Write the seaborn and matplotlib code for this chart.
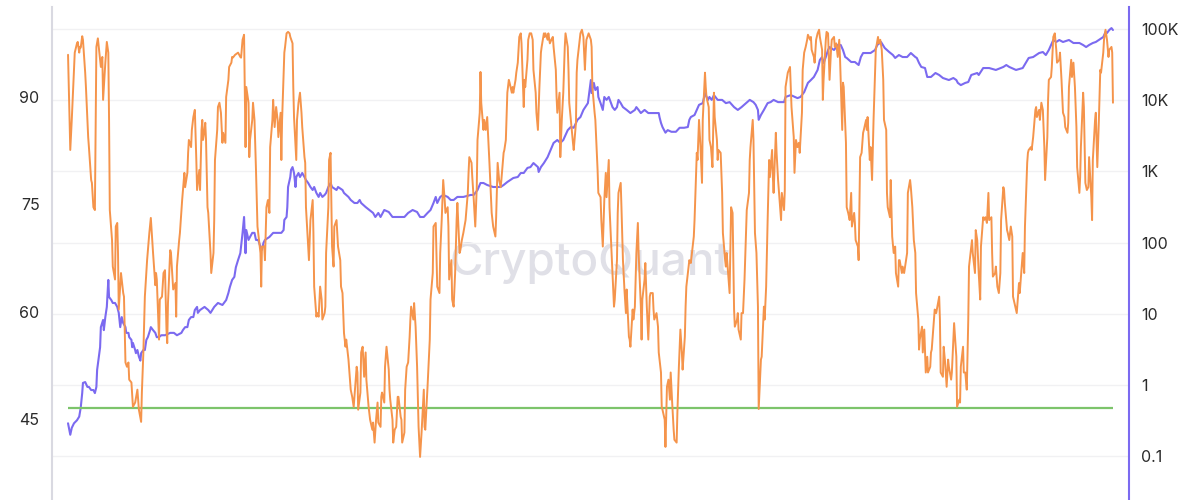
import numpy as np
import pandas as pd
import matplotlib
matplotlib.use("Agg")
import matplotlib.pyplot as plt
import seaborn as sns
from matplotlib.ticker import FixedLocator, FixedFormatter, NullLocator

# ---------------- data ----------------
osc_years = [
    2010.93, 2010.96, 2010.98, 2011.02, 2011.05, 2011.06, 2011.08, 2011.09, 2011.10, 2011.12,
    2011.13, 2011.16, 2011.17, 2011.20, 2011.21, 2011.24, 2011.25, 2011.27, 2011.29, 2011.31,
    2011.33, 2011.35, 2011.37, 2011.39, 2011.40, 2011.43, 2011.45, 2011.47, 2011.48, 2011.49,
    2011.52, 2011.53, 2011.56, 2011.57, 2011.59, 2011.60, 2011.61, 2011.64, 2011.67, 2011.68,
    2011.70, 2011.72, 2011.74, 2011.75, 2011.78, 2011.80, 2011.83, 2011.86, 2011.88, 2011.91,
    2011.92, 2011.94, 2011.96, 2011.99, 2012.02, 2012.04, 2012.07, 2012.10, 2012.11, 2012.12,
    2012.15, 2012.16, 2012.19, 2012.21, 2012.23, 2012.25, 2012.26, 2012.27, 2012.30, 2012.31,
    2012.34, 2012.37, 2012.38, 2012.39, 2012.42, 2012.43, 2012.46, 2012.49, 2012.50, 2012.53,
    2012.54, 2012.55, 2012.58, 2012.59, 2012.61, 2012.63, 2012.65, 2012.66, 2012.69, 2012.70,
    2012.72, 2012.73, 2012.74, 2012.76, 2012.77, 2012.78, 2012.80, 2012.81, 2012.84, 2012.85,
    2012.88, 2012.89, 2012.90, 2012.93, 2012.94, 2012.96, 2012.98, 2013.00, 2013.01, 2013.04,
    2013.05, 2013.08, 2013.09, 2013.12, 2013.13, 2013.14, 2013.17, 2013.21, 2013.24, 2013.25,
    2013.27, 2013.29, 2013.31, 2013.32, 2013.35, 2013.36, 2013.37, 2013.40, 2013.41, 2013.43,
    2013.45, 2013.47, 2013.48, 2013.51, 2013.52, 2013.53, 2013.56, 2013.57, 2013.59, 2013.61,
    2013.63, 2013.64, 2013.67, 2013.68, 2013.70, 2013.72, 2013.74, 2013.75, 2013.78, 2013.79,
    2013.80, 2013.83, 2013.84, 2013.86, 2013.88, 2013.90, 2013.91, 2013.94, 2013.95, 2013.96,
    2013.99, 2014.00, 2014.02, 2014.04, 2014.06, 2014.07, 2014.10, 2014.11, 2014.12, 2014.15,
    2014.16, 2014.18, 2014.21, 2014.22, 2014.23, 2014.26, 2014.27, 2014.29, 2014.31, 2014.33,
    2014.34, 2014.37, 2014.38, 2014.39, 2014.42, 2014.43, 2014.45, 2014.47, 2014.49, 2014.50,
    2014.53, 2014.54, 2014.55, 2014.58, 2014.59, 2014.61, 2014.63, 2014.65, 2014.66, 2014.69,
    2014.72, 2014.74, 2014.76, 2014.77, 2014.80, 2014.81, 2014.82, 2014.85, 2014.86, 2014.88,
    2014.90, 2014.92, 2014.93, 2014.96, 2014.98, 2015.01, 2015.02, 2015.04, 2015.06, 2015.08,
    2015.09, 2015.12, 2015.13, 2015.14, 2015.17, 2015.18, 2015.20, 2015.23, 2015.24, 2015.25,
    2015.28, 2015.29, 2015.31, 2015.33, 2015.35, 2015.36, 2015.39, 2015.40, 2015.41, 2015.44,
    2015.45, 2015.47, 2015.49, 2015.51, 2015.52, 2015.53, 2015.56, 2015.57, 2015.59, 2015.61,
    2015.63, 2015.65, 2015.67, 2015.70, 2015.71, 2015.72, 2015.75, 2015.78, 2015.79, 2015.82,
    2015.83, 2015.86, 2015.87, 2015.88, 2015.91, 2015.92, 2015.94, 2015.96, 2015.98, 2015.99,
    2016.02, 2016.03, 2016.04, 2016.07, 2016.08, 2016.10, 2016.12, 2016.14, 2016.15, 2016.18,
    2016.19, 2016.21, 2016.23, 2016.26, 2016.29, 2016.30, 2016.31, 2016.34, 2016.35, 2016.37,
    2016.39, 2016.41, 2016.42, 2016.45, 2016.46, 2016.47, 2016.50, 2016.51, 2016.53, 2016.55,
    2016.57, 2016.58, 2016.61, 2016.62, 2016.63, 2016.66, 2016.67, 2016.69, 2016.71, 2016.73,
    2016.74, 2016.77, 2016.78, 2016.80, 2016.82, 2016.84, 2016.85, 2016.88, 2016.89, 2016.90,
    2016.93, 2016.94, 2016.96, 2016.98, 2017.00, 2017.01, 2017.04, 2017.05, 2017.06, 2017.09,
    2017.10, 2017.12, 2017.14, 2017.16, 2017.17, 2017.20, 2017.21, 2017.23, 2017.25, 2017.27,
    2017.28, 2017.31, 2017.32, 2017.33, 2017.36, 2017.37, 2017.39, 2017.41, 2017.43, 2017.44,
    2017.47, 2017.48, 2017.49, 2017.52, 2017.53, 2017.55, 2017.57, 2017.59, 2017.60, 2017.63,
    2017.64, 2017.65, 2017.68, 2017.70, 2017.71, 2017.74, 2017.75, 2017.76, 2017.79, 2017.80,
    2017.82, 2017.84, 2017.86, 2017.87, 2017.88, 2017.91, 2017.94, 2017.95, 2017.96, 2017.99,
    2018.00, 2018.03, 2018.04, 2018.07, 2018.08, 2018.10, 2018.12, 2018.14, 2018.15, 2018.18,
    2018.19, 2018.21, 2018.23, 2018.25, 2018.26, 2018.29, 2018.30, 2018.31, 2018.34, 2018.35,
    2018.37, 2018.39, 2018.41, 2018.42, 2018.45, 2018.46, 2018.47, 2018.50, 2018.51, 2018.53,
    2018.55, 2018.57, 2018.58, 2018.61, 2018.62, 2018.63, 2018.66, 2018.67, 2018.69, 2018.71,
    2018.73, 2018.74, 2018.77, 2018.78, 2018.79, 2018.82, 2018.84, 2018.85, 2018.88, 2018.89,
    2018.90, 2018.93, 2018.94, 2018.96, 2018.98, 2019.00, 2019.01, 2019.03, 2019.05, 2019.06,
    2019.09, 2019.10, 2019.12, 2019.14, 2019.16, 2019.17, 2019.20, 2019.21, 2019.22, 2019.25,
    2019.26, 2019.28, 2019.30, 2019.32, 2019.33, 2019.36, 2019.37, 2019.39, 2019.41, 2019.43,
    2019.44, 2019.47, 2019.48, 2019.49, 2019.52, 2019.53, 2019.55, 2019.57, 2019.59, 2019.60,
    2019.63, 2019.64, 2019.65, 2019.68, 2019.70, 2019.71, 2019.74, 2019.75, 2019.76, 2019.79,
    2019.80, 2019.82, 2019.84, 2019.86, 2019.87, 2019.90, 2019.91, 2019.92, 2019.95, 2019.96,
    2019.98, 2020.00, 2020.02, 2020.03, 2020.06, 2020.07, 2020.08, 2020.11, 2020.12, 2020.14,
    2020.16, 2020.18, 2020.19, 2020.22, 2020.23, 2020.26, 2020.27, 2020.29, 2020.31, 2020.33,
    2020.34, 2020.37, 2020.38, 2020.39, 2020.42, 2020.43, 2020.45, 2020.47, 2020.49, 2020.50,
    2020.53, 2020.54, 2020.55, 2020.58, 2020.61, 2020.62, 2020.63, 2020.66, 2020.67, 2020.69,
    2020.71, 2020.73, 2020.74, 2020.77, 2020.78, 2020.80, 2020.82, 2020.84, 2020.85, 2020.88,
    2020.89, 2020.90, 2020.93, 2020.94, 2020.96, 2020.98, 2021.00, 2021.01, 2021.04, 2021.05,
    2021.06, 2021.09, 2021.10, 2021.12, 2021.14, 2021.16, 2021.17, 2021.20, 2021.21, 2021.23,
    2021.25, 2021.27, 2021.28, 2021.31, 2021.32, 2021.33, 2021.36, 2021.37, 2021.39, 2021.41,
    2021.43, 2021.44, 2021.47, 2021.48, 2021.49, 2021.52, 2021.53, 2021.55, 2021.57, 2021.59,
    2021.60, 2021.63, 2021.64, 2021.65, 2021.68, 2021.69, 2021.71, 2021.73, 2021.75, 2021.76,
    2021.79, 2021.80, 2021.82, 2021.84, 2021.86, 2021.87, 2021.90, 2021.91, 2021.92, 2021.95,
    2021.96, 2021.98, 2022.00, 2022.02, 2022.03, 2022.06, 2022.07, 2022.08, 2022.11, 2022.12,
    2022.14, 2022.16, 2022.18, 2022.19, 2022.22, 2022.23, 2022.25, 2022.27, 2022.29, 2022.30,
    2022.33, 2022.34, 2022.35, 2022.38, 2022.39, 2022.41, 2022.43, 2022.45, 2022.46, 2022.49,
    2022.50, 2022.51, 2022.54, 2022.55, 2022.57, 2022.61, 2022.62, 2022.63, 2022.66, 2022.67,
    2022.69, 2022.71, 2022.73, 2022.74, 2022.77, 2022.78, 2022.81, 2022.84, 2022.85, 2022.88,
    2022.89, 2022.90, 2022.93, 2022.94, 2022.96, 2022.98, 2023.00, 2023.01, 2023.04, 2023.05,
    2023.06, 2023.09, 2023.10, 2023.12, 2023.14, 2023.16, 2023.17, 2023.20, 2023.21, 2023.23,
    2023.25, 2023.27, 2023.28, 2023.31, 2023.32, 2023.33, 2023.36, 2023.37, 2023.39, 2023.41,
    2023.43, 2023.44, 2023.47, 2023.48, 2023.49, 2023.52, 2023.53, 2023.55, 2023.57, 2023.59,
    2023.60, 2023.63, 2023.64, 2023.65, 2023.68, 2023.69, 2023.71, 2023.73, 2023.75, 2023.76,
    2023.79, 2023.80, 2023.81, 2023.84, 2023.85, 2023.87, 2023.90, 2023.91, 2023.92, 2023.95,
    2023.96, 2023.98, 2024.00, 2024.02, 2024.03, 2024.06, 2024.07, 2024.08, 2024.11, 2024.12,
    2024.14, 2024.16, 2024.18, 2024.19, 2024.22, 2024.23, 2024.25, 2024.27, 2024.29, 2024.30,
    2024.33, 2024.34, 2024.35, 2024.38, 2024.39, 2024.41, 2024.43, 2024.45, 2024.46, 2024.49,
    2024.50, 2024.51, 2024.54, 2024.55, 2024.57, 2024.59, 2024.61, 2024.62, 2024.65, 2024.66,
    2024.67, 2024.70, 2024.71, 2024.73, 2024.75, 2024.77, 2024.78, 2024.81, 2024.82, 2024.84,
    2024.86, 2024.88, 2024.89, 2024.92, 2024.93, 2024.94,
]

osc_values = [
    95.9, 82.6, 86.8, 96.2, 97.5, 97.7, 96.2, 97.0, 96.9, 98.5,
    98.0, 93.4, 91.4, 84.4, 83.0, 78.4, 78.0, 74.6, 74.2, 97.0,
    98.2, 96.2, 94.2, 95.6, 89.6, 94.8, 97.7, 96.2, 86.8, 74.2,
    70.0, 66.3, 64.5, 71.9, 72.4, 68.2, 60.3, 65.4, 62.6, 62.1,
    52.9, 52.3, 52.9, 50.5, 50.1, 46.7, 47.3, 49.1, 46.3, 44.6,
    48.7, 54.3, 62.1, 67.2, 71.0, 73.1, 68.2, 63.7, 65.4, 64.5,
    56.1, 61.7, 62.1, 65.4, 65.8, 57.5, 55.6, 61.2, 68.6, 68.2,
    63.1, 64.0, 59.3, 66.3, 70.0, 71.0, 75.6, 79.4, 77.4, 79.4,
    82.2, 84.0, 83.0, 85.4, 87.2, 88.2, 81.2, 77.0, 79.8, 77.0,
    85.4, 86.8, 84.0, 85.4, 86.4, 84.0, 74.6, 73.8, 68.2, 65.4,
    68.2, 72.8, 81.2, 85.4, 88.6, 89.2, 87.8, 83.6, 85.0, 83.6,
    90.0, 92.4, 94.2, 94.8, 95.6, 95.5, 95.9, 96.2, 95.6, 95.5,
    98.0, 98.7, 83.0, 91.4, 89.2, 81.6, 84.0, 86.8, 89.2, 86.8,
    79.8, 71.9, 71.0, 68.2, 63.5, 69.1, 69.1, 67.2, 74.6, 75.6,
    73.8, 83.0, 86.8, 89.6, 85.8, 88.6, 86.8, 84.4, 87.8, 81.2,
    86.8, 96.2, 97.0, 98.9, 99.1, 98.9, 98.4, 97.5, 91.4, 87.2,
    81.2, 86.8, 89.2, 90.6, 87.8, 85.8, 81.6, 80.8, 74.6, 69.1,
    67.2, 72.8, 75.6, 71.0, 63.5, 59.3, 59.8, 59.3, 63.5, 61.7,
    58.9, 59.8, 60.7, 68.2, 74.6, 81.2, 82.2, 69.1, 66.3, 71.9,
    72.8, 71.0, 69.1, 67.2, 63.5, 62.6, 57.0, 55.1, 56.1, 53.3,
    49.1, 48.1, 46.7, 48.1, 52.3, 51.5, 46.3, 48.7, 54.3, 55.1,
    50.9, 54.3, 50.5, 46.7, 44.9, 43.5, 44.5, 41.7, 44.9, 47.3,
    44.5, 43.9, 48.1, 48.7, 47.3, 52.3, 55.1, 51.9, 49.1, 47.7,
    44.9, 41.7, 43.5, 43.9, 48.1, 48.1, 45.3, 44.9, 41.7, 43.1,
    49.1, 52.3, 52.9, 56.5, 58.9, 60.7, 58.9, 61.2, 57.9, 52.3,
    43.9, 39.7, 43.1, 49.1, 43.9, 43.5, 49.5, 56.1, 61.7, 65.4,
    71.9, 72.4, 68.2, 63.5, 62.6, 68.2, 72.8, 78.4, 75.6, 73.8,
    74.6, 71.9, 64.5, 67.2, 61.7, 60.7, 65.4, 72.8, 75.2, 68.2,
    68.6, 70.0, 71.0, 72.8, 76.6, 79.4, 81.6, 80.8, 78.8, 75.6,
    71.9, 77.4, 84.0, 87.8, 93.5, 89.2, 85.4, 86.8, 85.4, 87.2,
    83.0, 80.8, 73.8, 72.8, 71.9, 70.5, 73.2, 80.8, 78.4, 77.4,
    78.4, 82.2, 82.6, 84.0, 90.6, 92.4, 92.0, 90.6, 91.4, 90.6,
    92.4, 93.4, 94.8, 98.4, 98.9, 97.5, 88.6, 92.4, 91.4, 95.2,
    98.0, 98.9, 98.9, 98.0, 93.8, 90.6, 87.8, 85.4, 91.4, 96.2,
    97.0, 98.9, 98.4, 98.9, 98.0, 98.9, 97.5, 98.0, 98.4, 97.0,
    93.8, 90.0, 87.8, 90.6, 81.6, 86.8, 90.6, 97.0, 98.9, 97.0,
    93.8, 89.2, 85.8, 83.6, 82.6, 86.4, 93.4, 95.2, 98.0, 98.9,
    99.4, 98.4, 93.8, 96.2, 98.0, 98.9, 98.0, 97.0, 91.4, 87.8,
    86.8, 79.8, 76.6, 76.0, 72.8, 69.1, 75.6, 79.4, 76.0, 81.2,
    74.6, 70.0, 65.4, 60.7, 61.7, 67.2, 73.8, 76.6, 78.0, 74.6,
    67.2, 63.1, 59.8, 63.1, 56.5, 56.1, 55.1, 60.3, 58.9, 60.7,
    68.2, 72.4, 68.2, 60.7, 56.1, 61.7, 64.5, 66.8, 60.7, 56.1,
    62.1, 62.6, 62.6, 60.3, 58.9, 59.8, 57.9, 54.3, 51.5, 46.7,
    46.3, 44.9, 41.1, 49.5, 50.5, 47.7, 51.5, 47.3, 43.5, 42.1,
    41.7, 45.9, 52.3, 57.5, 54.3, 51.9, 56.5, 60.7, 63.5, 66.3,
    67.2, 66.8, 68.6, 70.5, 72.8, 82.2, 81.2, 86.8, 83.0, 78.0,
    86.8, 93.4, 91.4, 90.0, 88.6, 84.0, 83.0, 80.2, 90.6, 87.2,
    84.0, 81.2, 82.6, 82.2, 76.6, 71.0, 67.2, 66.3, 68.2, 64.0,
    62.6, 74.6, 73.8, 60.3, 57.9, 58.9, 59.8, 57.5, 56.1, 59.8,
    59.8, 64.5, 71.0, 74.2, 76.6, 81.2, 83.0, 86.8, 84.0, 71.0,
    68.2, 60.7, 46.4, 53.3, 53.7, 60.7, 58.9, 63.5, 72.8, 81.2,
    78.8, 82.6, 78.8, 76.6, 85.0, 82.2, 78.4, 75.6, 72.8, 76.6,
    74.2, 77.0, 91.4, 93.4, 94.2, 91.4, 88.6, 84.4, 79.4, 84.0,
    83.0, 83.6, 82.2, 87.8, 93.8, 96.2, 97.0, 98.0, 98.7, 98.0,
    98.4, 96.6, 95.6, 94.8, 98.0, 98.9, 99.4, 98.4, 96.6, 89.6,
    92.4, 98.0, 99.1, 98.9, 92.4, 96.6, 98.0, 98.4, 97.0, 97.5,
    95.6, 98.0, 95.6, 85.4, 92.0, 91.4, 83.6, 74.6, 73.8, 72.8,
    76.6, 71.9, 73.8, 72.4, 70.0, 69.1, 67.2, 81.6, 82.2, 85.0,
    85.4, 86.8, 85.4, 87.2, 81.2, 83.0, 78.4, 86.8, 93.4, 96.6,
    98.4, 97.5, 98.0, 96.6, 92.4, 86.8, 85.4, 76.6, 74.6, 73.2,
    78.4, 70.5, 68.2, 69.1, 65.4, 63.5, 67.2, 67.2, 65.4, 66.3,
    65.4, 66.8, 68.2, 76.6, 78.4, 77.4, 74.6, 70.0, 68.2, 62.6,
    58.9, 54.7, 56.1, 57.9, 54.3, 57.5, 51.5, 53.7, 51.5, 52.3,
    54.3, 54.7, 58.9, 60.3, 59.8, 62.1, 58.9, 51.5, 50.9, 55.1,
    52.9, 49.5, 53.3, 52.3, 50.5, 51.5, 58.4, 53.7, 46.7, 47.7,
    47.3, 52.3, 55.1, 51.5, 51.5, 49.1, 58.9, 66.3, 69.1, 70.0,
    68.2, 65.4, 71.4, 70.0, 65.4, 61.7, 69.1, 73.2, 72.8, 73.2,
    72.4, 76.6, 72.8, 73.2, 68.2, 64.9, 65.4, 66.3, 63.5, 62.6,
    65.4, 72.8, 77.4, 77.0, 75.2, 71.4, 71.0, 70.0, 71.9, 70.5,
    62.1, 60.7, 60.3, 59.8, 64.0, 62.6, 65.4, 68.2, 65.4, 71.9,
    80.8, 82.2, 82.6, 83.0, 82.6, 84.4, 88.2, 88.6, 87.2, 88.2,
    86.8, 89.2, 88.2, 83.0, 78.4, 84.4, 89.6, 92.4, 92.8, 94.2,
    98.4, 98.9, 96.6, 94.8, 95.2, 96.2, 92.4, 87.8, 87.2, 85.8,
    85.0, 86.4, 91.4, 95.2, 92.8, 94.8, 91.4, 85.8, 80.2, 76.6,
    78.8, 83.0, 90.6, 88.6, 78.0, 77.0, 77.4, 81.6, 76.0, 72.8,
    81.2, 86.8, 87.8, 80.2, 86.4, 93.8, 93.4, 96.2, 98.0, 99.4,
    98.0, 95.6, 96.6, 97.0, 96.2, 89.2,
]

price_years = [
    2010.93, 2010.96, 2010.98, 2011.01, 2011.05, 2011.08, 2011.10, 2011.12, 2011.13, 2011.16,
    2011.19, 2011.21, 2011.24, 2011.27, 2011.29, 2011.31, 2011.32, 2011.35, 2011.36, 2011.37,
    2011.40, 2011.41, 2011.43, 2011.45, 2011.47, 2011.48, 2011.51, 2011.53, 2011.56, 2011.59,
    2011.61, 2011.63, 2011.65, 2011.67, 2011.70, 2011.71, 2011.74, 2011.75, 2011.78, 2011.79,
    2011.80, 2011.83, 2011.84, 2011.86, 2011.88, 2011.90, 2011.91, 2011.94, 2011.96, 2011.98,
    2012.00, 2012.03, 2012.04, 2012.07, 2012.10, 2012.12, 2012.15, 2012.18, 2012.23, 2012.30,
    2012.35, 2012.39, 2012.45, 2012.47, 2012.50, 2012.53, 2012.55, 2012.58, 2012.61, 2012.63,
    2012.66, 2012.67, 2012.70, 2012.76, 2012.81, 2012.84, 2012.89, 2012.94, 2013.00, 2013.05,
    2013.08, 2013.10, 2013.13, 2013.16, 2013.18, 2013.21, 2013.24, 2013.27, 2013.29, 2013.31,
    2013.32, 2013.35, 2013.37, 2013.40, 2013.43, 2013.45, 2013.48, 2013.51, 2013.53, 2013.55,
    2013.57, 2013.63, 2013.68, 2013.79, 2013.82, 2013.83, 2013.86, 2013.87, 2013.88, 2013.91,
    2013.92, 2013.94, 2013.96, 2013.98, 2013.99, 2014.02, 2014.04, 2014.07, 2014.10, 2014.12,
    2014.15, 2014.18, 2014.21, 2014.23, 2014.26, 2014.29, 2014.31, 2014.34, 2014.37, 2014.39,
    2014.42, 2014.45, 2014.47, 2014.53, 2014.55, 2014.61, 2014.63, 2014.69, 2014.72, 2014.77,
    2014.81, 2014.84, 2014.86, 2014.92, 2014.97, 2015.02, 2015.05, 2015.09, 2015.12, 2015.17,
    2015.23, 2015.28, 2015.36, 2015.44, 2015.49, 2015.55, 2015.61, 2015.65, 2015.70, 2015.75,
    2015.79, 2015.83, 2015.86, 2015.88, 2015.92, 2015.96, 2016.02, 2016.06, 2016.10, 2016.15,
    2016.23, 2016.33, 2016.37, 2016.42, 2016.46, 2016.50, 2016.55, 2016.63, 2016.73, 2016.77,
    2016.82, 2016.86, 2016.90, 2016.96, 2017.00, 2017.04, 2017.09, 2017.13, 2017.17, 2017.23,
    2017.24, 2017.27, 2017.31, 2017.36, 2017.40, 2017.44, 2017.49, 2017.53, 2017.57, 2017.63,
    2017.67, 2017.71, 2017.76, 2017.80, 2017.84, 2017.90, 2017.94, 2017.95, 2017.98, 2018.00,
    2018.03, 2018.04, 2018.07, 2018.10, 2018.12, 2018.15, 2018.18, 2018.21, 2018.23, 2018.26,
    2018.29, 2018.31, 2018.34, 2018.37, 2018.42, 2018.47, 2018.53, 2018.55, 2018.58, 2018.61,
    2018.66, 2018.71, 2018.85, 2018.86, 2018.88, 2018.90, 2018.94, 2018.97, 2019.02, 2019.08,
    2019.13, 2019.19, 2019.24, 2019.26, 2019.28, 2019.33, 2019.36, 2019.39, 2019.44, 2019.47,
    2019.51, 2019.53, 2019.56, 2019.59, 2019.64, 2019.70, 2019.75, 2019.80, 2019.86, 2019.91,
    2019.96, 2020.02, 2020.07, 2020.12, 2020.15, 2020.18, 2020.19, 2020.22, 2020.26, 2020.31,
    2020.35, 2020.39, 2020.45, 2020.53, 2020.55, 2020.62, 2020.71, 2020.75, 2020.80, 2020.85,
    2020.89, 2020.93, 2020.98, 2021.01, 2021.04, 2021.06, 2021.09, 2021.12, 2021.14, 2021.20,
    2021.25, 2021.29, 2021.32, 2021.35, 2021.37, 2021.43, 2021.48, 2021.53, 2021.56, 2021.59,
    2021.64, 2021.69, 2021.75, 2021.78, 2021.83, 2021.88, 2021.94, 2021.99, 2022.02, 2022.07,
    2022.12, 2022.18, 2022.23, 2022.29, 2022.31, 2022.34, 2022.37, 2022.42, 2022.45, 2022.50,
    2022.56, 2022.61, 2022.66, 2022.74, 2022.80, 2022.84, 2022.86, 2022.90, 2022.96, 2023.00,
    2023.04, 2023.12, 2023.14, 2023.20, 2023.28, 2023.37, 2023.47, 2023.51, 2023.55, 2023.64,
    2023.73, 2023.77, 2023.81, 2023.87, 2023.95, 2024.00, 2024.04, 2024.08, 2024.11, 2024.14,
    2024.18, 2024.22, 2024.27, 2024.35, 2024.41, 2024.49, 2024.54, 2024.58, 2024.62, 2024.67,
    2024.71, 2024.75, 2024.81, 2024.84, 2024.86, 2024.89, 2024.92, 2024.94,
]

price_values = [
    0.29, 0.20, 0.25, 0.29, 0.32, 0.36, 0.48, 0.77, 1.07, 1.10,
    0.94, 0.94, 0.85, 0.85, 0.77, 0.94, 1.63, 2.8, 3.4, 6.5,
    8.2, 5.9, 9.0, 12.5, 29.9, 17.2, 15.6, 14.2, 14.2, 12.5,
    10.3, 6.5, 9.0, 7.4, 6.5, 5.4, 5.4, 4.7, 4.3, 3.4,
    3.9, 3.1, 2.8, 3.1, 2.5, 2.2, 2.8, 3.1, 3.1, 4.3,
    4.7, 5.9, 6.5, 5.9, 5.4, 4.7, 4.7, 5.0, 5.0, 5.4,
    5.4, 5.0, 5.4, 5.9, 6.5, 6.5, 8.2, 9.0, 9.0, 11.3,
    12.5, 10.3, 11.3, 12.5, 11.3, 10.3, 12.5, 14.2, 13.3, 15.6,
    19.6, 23.8, 29.9, 33, 45, 57, 71, 137, 229, 71,
    150, 109, 120, 137, 137, 109, 109, 87, 79, 99,
    109, 120, 137, 137, 150, 208, 229, 316, 604, 835,
    1050, 1150, 950, 604, 835, 950, 835, 950, 835, 757,
    687, 604, 548, 604, 498, 438, 498, 438, 467, 498,
    604, 687, 604, 548, 604, 548, 498, 438, 397, 360,
    360, 397, 360, 316, 287, 261, 229, 261, 229, 287,
    269, 229, 229, 229, 261, 287, 269, 229, 229, 261,
    287, 360, 438, 360, 438, 467, 438, 397, 397, 438,
    438, 467, 467, 548, 687, 687, 644, 604, 604, 644,
    710, 757, 808, 835, 950, 950, 1120, 1150, 1310, 1150,
    982, 1150, 1310, 1590, 2000, 2510, 2760, 2510, 2760, 3800,
    4200, 4100, 5300, 5800, 7300, 9100, 19200, 12600, 17500, 13900,
    15300, 11100, 9100, 7300, 11100, 10100, 11100, 9100, 8000, 7300,
    8000, 10100, 9100, 8000, 7300, 6600, 7300, 8000, 7300, 6600,
    7300, 6600, 6600, 5800, 4800, 4200, 3500, 3800, 3600, 3600,
    4100, 4100, 4200, 5300, 5800, 6200, 7300, 8600, 9100, 12600,
    10100, 11100, 10100, 11800, 10100, 10100, 9100, 9400, 8000, 7300,
    8000, 9100, 10100, 9400, 8600, 7300, 5300, 6200, 7300, 9100,
    9400, 10100, 9400, 9400, 11100, 11800, 10700, 11100, 13000, 17500,
    19200, 21200, 26600, 36700, 40400, 33300, 40400, 50700, 55800, 50700,
    59600, 59600, 50700, 40400, 39200, 34400, 34400, 31200, 40400, 46000,
    46000, 46000, 50700, 59600, 65700, 54100, 47500, 43100, 39200, 43100,
    40400, 40400, 46000, 40400, 39200, 33300, 29300, 28300, 21200, 21200,
    24100, 22600, 20500, 19200, 20500, 19200, 17500, 16300, 17500, 18000,
    22600, 24100, 22600, 28300, 28300, 26600, 29300, 31200, 29300, 26600,
    28300, 33300, 39200, 40400, 46000, 47500, 43100, 50700, 59600, 70100,
    65700, 70100, 65700, 70100, 63600, 63600, 59600, 55800, 59600, 63600,
    65700, 70100, 77200, 90800, 87900, 96800, 103000, 96800,
]

threshold_level = 46.5

left_ticks = [45, 60, 75, 90]
right_ticks = [0.1, 1, 10, 100, 1000, 10000, 100000]
right_labels = ["0.1", "1", "10", "100", "1K", "10K", "100K"]
watermark = "CryptoQuant"


def to_dates(years):
    y = np.asarray(years, dtype=float)
    return pd.to_datetime("2010-01-01") + pd.to_timedelta((y - 2010.0) * 365.25, unit="D")


osc_df = pd.DataFrame({"date": to_dates(osc_years), "value": osc_values})
price_df = pd.DataFrame({"date": to_dates(price_years), "price": price_values})

# ---------------- styling ----------------
sns.set_theme(style="white")
plt.rcParams["font.family"] = ["Inter", "DejaVu Sans"]

ORANGE = "#F5944B"
PURPLE = "#7B6AF0"
GREEN = "#7CC46B"
TEXT = "#2b2b2b"

fig = plt.figure(figsize=(12, 5), dpi=100)
ax = fig.add_axes([52 / 1200, 0.0, (1129 - 52) / 1200, 493 / 500])
ax2 = ax.twinx()

# right (price, log) axis - drawn below
ax2.set_yscale("log")
ax2.set_ylim(10 ** -1.615, 10 ** 5.309)
ax2.yaxis.set_major_locator(FixedLocator(right_ticks))
ax2.yaxis.set_major_formatter(FixedFormatter(right_labels))
ax2.yaxis.set_minor_locator(NullLocator())
ax2.grid(axis="y", which="major", color="#f1f1f3", lw=1.0)
ax2.grid(axis="x", visible=False)
ax2.text(0.4995, 0.48, watermark, transform=ax2.transAxes, ha="center", va="center",
         fontsize=33, color="#e0e0e7", fontweight="medium", zorder=0)
sns.lineplot(data=price_df, x="date", y="price", ax=ax2, color=PURPLE, lw=1.5,
             estimator=None, sort=False, zorder=2)

# left (oscillator) axis - on top
ax.set_zorder(ax2.get_zorder() + 1)
ax.patch.set_visible(False)
ax.set_ylim(33.68, 102.58)
ax.hlines(threshold_level, osc_df["date"].iloc[0], osc_df["date"].iloc[-1],
          color=GREEN, lw=1.6, zorder=2)
sns.lineplot(data=osc_df, x="date", y="value", ax=ax, color=ORANGE, lw=1.4,
             estimator=None, sort=False, zorder=3)
ax.set_yticks(left_ticks)
ax.set_yticklabels([str(t) for t in left_ticks])
ax.grid(False)

x0 = to_dates([2010.715])[0]
x1 = to_dates([2025.155])[0]
ax.set_xlim(x0, x1)

for a in (ax, ax2):
    a.set_xlabel("")
    a.set_ylabel("")
    a.xaxis.set_major_locator(NullLocator())
    a.xaxis.set_minor_locator(NullLocator())
    for s in a.spines.values():
        s.set_visible(False)

ax.spines["left"].set_visible(True)
ax.spines["left"].set_color("#d9d9e1")
ax.spines["left"].set_linewidth(1.5)
ax2.spines["right"].set_visible(True)
ax2.spines["right"].set_color(PURPLE)
ax2.spines["right"].set_linewidth(1.5)

ax.tick_params(axis="y", length=0, pad=9, labelsize=11.5, labelcolor=TEXT)
ax2.tick_params(axis="y", length=0, pad=9, labelsize=11.5, labelcolor=TEXT)
ax.tick_params(axis="x", length=0, labelbottom=False)
ax2.tick_params(axis="x", length=0, labelbottom=False)

fig.savefig("out.png", dpi=100)
